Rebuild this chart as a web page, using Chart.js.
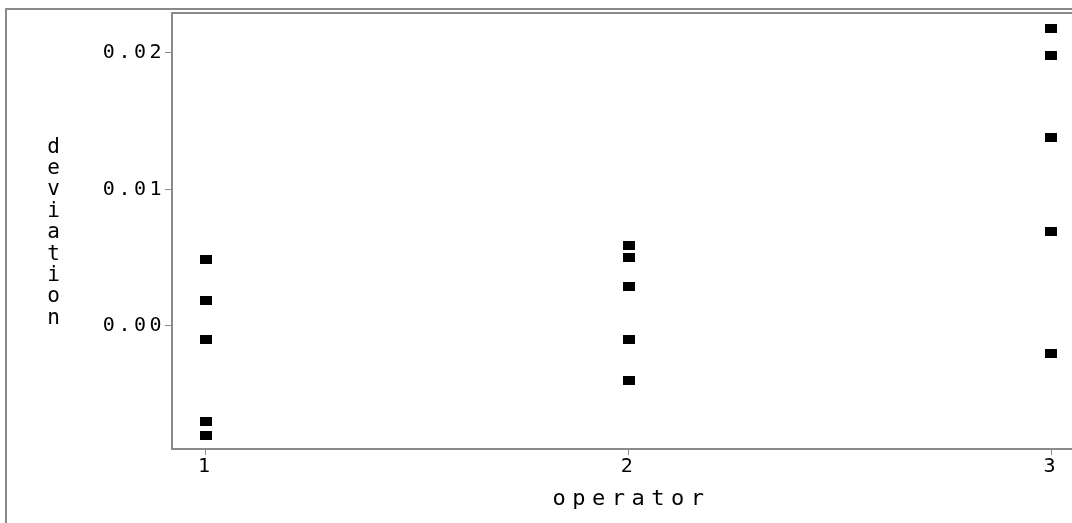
<!DOCTYPE html>
<html><head><meta charset="utf-8">
<script src="https://cdn.jsdelivr.net/npm/chart.js@4/dist/chart.umd.min.js"></script>
<style>
html,body{margin:0;padding:0;background:#fff;overflow:hidden;width:1072px;height:523px;}
#wrap{position:relative;width:1072px;height:523px;overflow:hidden;}
canvas{display:block;}
</style></head><body>
<div id="wrap"><canvas id="c" width="1100" height="523"></canvas></div>
<script>
// ---- data ----
const operators = [1, 2, 3];
const deviationsOp1 = [0.0049, 0.0019, -0.0010, -0.0070, -0.0080];
const deviationsOp2 = [0.0059, 0.0050, 0.0029, -0.0010, -0.0040];
const deviationsOp3 = [0.0218, 0.0198, 0.0138, 0.0069, -0.0020];
const yTickValues = [0.00, 0.01, 0.02];
const xTickValues = [1, 2, 3];
const xTitle = 'operator';
const yTitle = 'deviation';

// ---- build ----
const groups = [deviationsOp1, deviationsOp2, deviationsOp3];
const points = [];
operators.forEach((op, i) => groups[i].forEach(v => points.push({x: op, y: v})));

const marker = document.createElement('canvas');
marker.width = 12; marker.height = 9;
const mctx = marker.getContext('2d');
mctx.fillStyle = '#000';
mctx.fillRect(0, 0, 12, 9);

const FONT = '"DejaVu Sans Mono", "Liberation Mono", monospace';
const GRAY = '#8a8a8a';

const framePlugin = {
  id: 'frame',
  beforeDraw(chart) {
    chart.ctx.letterSpacing = '3.5px';
  },
  afterDraw(chart) {
    const ctx = chart.ctx;
    const a = chart.chartArea;
    ctx.save();
    ctx.letterSpacing = '0px';
    // outer frame
    ctx.strokeStyle = GRAY;
    ctx.lineWidth = 2;
    ctx.beginPath();
    ctx.moveTo(6, chart.height + 5);
    ctx.lineTo(6, 9);
    ctx.lineTo(chart.width + 5, 9);
    ctx.stroke();
    // plot box
    ctx.strokeRect(a.left, a.top, a.right - a.left, a.bottom - a.top);
    // x title
    ctx.fillStyle = '#000';
    ctx.font = '22px ' + FONT;
    ctx.letterSpacing = '6.5px';
    ctx.textAlign = 'center';
    ctx.textBaseline = 'alphabetic';
    ctx.fillText(xTitle, (a.left + a.right) / 2 + 3, 505);
    // y title, stacked letters
    ctx.letterSpacing = '0px';
    ctx.font = '21px ' + FONT;
    const chars = Array.from(yTitle);
    chars.forEach((ch, i) => ctx.fillText(ch, 53.5, 152.5 + 21.4 * i));
    ctx.restore();
  }
};

new Chart(document.getElementById('c'), {
  type: 'scatter',
  data: {
    datasets: [{
      data: points,
      pointStyle: marker,
      pointRadius: 5,
      pointHoverRadius: 5,
      showLine: false
    }]
  },
  options: {
    responsive: false,
    animation: false,
    events: [],
    layout: { padding: { top: 13, left: 0, right: 15, bottom: 0 } },
    plugins: { legend: { display: false }, tooltip: { enabled: false } },
    scales: {
      x: {
        type: 'linear',
        min: 0.92,
        max: 3.08,
        afterBuildTicks: s => { s.ticks = xTickValues.map(v => ({value: v})); },
        afterFit: s => { s.height = 74; s.paddingLeft = 0; s.paddingRight = 0; },
        ticks: {
          callback: v => String(v),
          color: '#000',
          font: { family: FONT, size: 20 },
          padding: 0,
          maxRotation: 0,
          autoSkip: false
        },
        grid: { display: true, drawOnChartArea: false, drawTicks: true, tickLength: 6, color: GRAY, lineWidth: 1 },
        border: { display: false },
        title: { display: false }
      },
      y: {
        type: 'linear',
        min: -0.009,
        max: 0.0229,
        afterBuildTicks: s => { s.ticks = yTickValues.map(v => ({value: v})); },
        afterFit: s => { s.width = 172; s.paddingTop = 0; s.paddingBottom = 0; },
        ticks: {
          callback: v => Number(v).toFixed(2),
          color: '#000',
          font: { family: FONT, size: 20 },
          padding: 0,
          autoSkip: false
        },
        grid: { display: true, drawOnChartArea: false, drawTicks: true, tickLength: 7, color: GRAY, lineWidth: 1 },
        border: { display: false },
        title: { display: false }
      }
    }
  },
  plugins: [framePlugin]
});
</script>
</body></html>
